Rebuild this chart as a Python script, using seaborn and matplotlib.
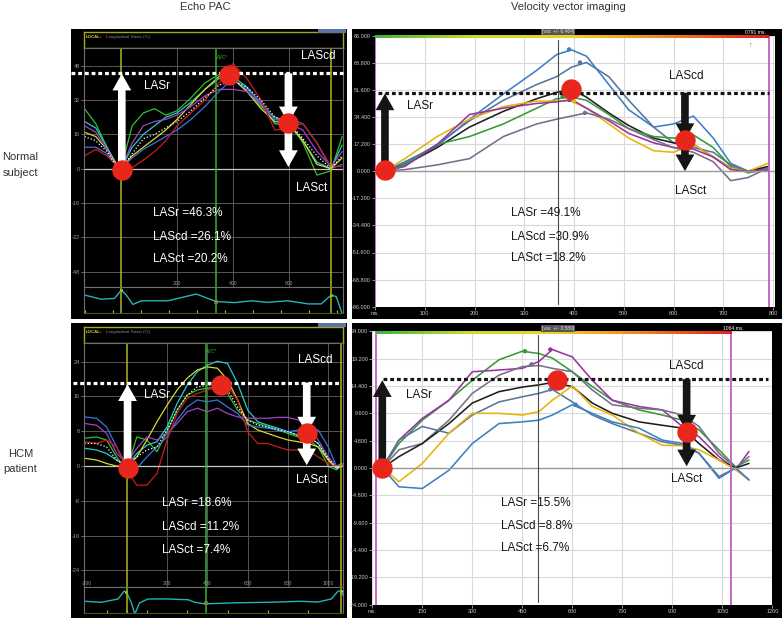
import numpy as np
import pandas as pd
import matplotlib
matplotlib.use("Agg")
import matplotlib.pyplot as plt
from matplotlib.patches import Rectangle
from matplotlib.colors import LinearSegmentedColormap
import seaborn as sns

# --------------------------
# Data (strain in %, time in ms)
# --------------------------

# Echo PAC - normal subject
tl_ms = [-130, -90, -50, -20, 0, 40, 80, 120, 160, 200, 250, 300, 350, 400, 450, 500, 550, 600, 650, 700, 750, 790]
tl_green = [28, 21, 10, 2.5, 0, 20, 26, 28, 25, 27, 33, 40, 44, 42, 36, 29, 24, 22, 12, -3, -1, 15]
tl_cyan = [22, 19, 10, 3, 0, 10, 16, 20, 24, 26, 31, 37, 42, 43, 38, 30, 21, 20, 13, 3, 0, 11]
tl_yellow = [17, 15, 9, 3, 0, 6, 10, 14, 18, 23, 30, 37, 43, 42, 36, 28, 22, 21, 13, 2, 0, 5]
tl_magenta = [20, 17, 9, 2, 0, 12, 20, 22, 23, 25, 29, 34, 37, 37, 36, 30, 23, 21, 18, 8, 1, 8]
tl_blue = [10, 10, 7, 2, 0, 5, 9, 12, 15, 18, 23, 29, 36, 42, 37, 31, 23, 23, 21, 12, 0, 2]
tl_red = [6, 9, 6, 2, 0, 0.5, 4, 8, 13, 20, 26, 32, 40, 49, 42, 32, 18, 19, 21, 12, 1, 1]
tl_white = [15, 13, 8, 2, 0, 7, 14, 16, 19, 22, 27, 33, 39, 41, 38, 32, 24, 22, 14, 6, 0, 6]
tl_ecg_ms = [-130, -70, -23, 1, 19, 43, 73, 168, 269, 340, 406, 466, 525, 596, 668, 715, 751, 769, 789]
tl_ecg = [0.69, 0.53, 0.56, 0.88, 0.69, 0.33, 0.47, 0.47, 0.73, 0.44, 0.40, 0.47, 0.41, 0.47, 0.35, 0.35, 0.69, 0.63, 0.0]
tl_stats = ["LASr =46.3%", "LAScd =26.1%", "LASct =20.2%"]

# Echo PAC - HCM patient
bl_ms = [-210, -150, -100, -50, 0, 50, 100, 150, 200, 250, 300, 350, 400, 450, 500, 550, 600, 650, 700,
         750, 800, 850, 900, 950, 1000, 1040, 1070]
bl_blue = [11.3, 11, 9, 4.4, 0, -0.5, 2.1, 4.4, 6.7, 10.6, 13.6, 15.2, 14.8, 15.2, 13.6, 12.1, 9.4, 9, 8.7,
           8.3, 7.9, 8.3, 8.7, 8.3, 4.4, 0, 0.6]
bl_magenta = [9.8, 9.4, 7.5, 2.9, 0.6, 4.1, 6.7, 6, 7.5, 9.8, 12.5, 13.3, 12.5, 13.3, 12.1, 11.3, 11, 11, 11,
              11.2, 11.2, 10.6, 9.4, 6, 2.1, 0, 0.6]
bl_cyan = [4.1, 3.7, 2.9, 1.4, 0, 2.9, 4.8, 5.6, 9, 14.4, 18.6, 21.7, 23.2, 24.1, 23.6, 19, 12.9, 10.2, 9.4,
           8.7, 7.9, 7.1, 6.7, 5.2, 1.4, -0.5, 0.2]
bl_yellow = [1.8, 1.4, 0.6, 0, 0, 2.1, 6, 10.2, 14, 17.5, 20.2, 22.1, 22.8, 22.5, 19.8, 15.2, 9.8, 8.3, 7.5,
             6.7, 6, 5.6, 5.2, 4.4, 1.4, -0.5, 0.2]
bl_green = [6.4, 6.7, 6, 2.1, -0.9, 6.7, 6, 3.3, 7.9, 12.9, 16.3, 17.5, 17.9, 18.2, 16.7, 12.9, 10.6, 9.8, 9,
            8.3, 7.5, 6.7, 6, 4.4, 0, -0.9, 0.2]
bl_red = [5.6, 5.2, 6, 4.4, -0.9, -4.4, -4.4, -1.7, 6, 12.1, 15.6, 16.7, 17.5, 18.1, 18.4, 15.2, 7.9, 5.2, 5.2,
          4.4, 3.7, 3.7, 3.7, 2.1, 0.6, 0, 0.2]
bl_white = [5.2, 5.2, 4.4, 1.4, 0, 2.1, 3.7, 4.4, 8.3, 12.9, 16.3, 18.2, 18.6, 18.6, 17.5, 13.6, 10.6, 9.4, 9,
            8.3, 7.9, 7.1, 6.7, 5.2, 1.8, -0.5, 0.2]
bl_ecg_ms = [-208, -126, -43, -13, -2, 23, 40, 64, 106, 205, 304, 337, 387, 536, 701, 866, 949, 1015, 1049, 1062, 1081]
bl_ecg = [0.44, 0.40, 0.53, 0.84, 0.81, 0.38, -0.06, 0.38, 0.53, 0.53, 0.5, 0.40, 0.34, 0.38, 0.40, 0.44, 0.41,
          0.53, 0.84, 0.84, 0.56]
bl_stats = ["LASr =18.6%", "LAScd =11.2%", "LASct =7.4%"]

# Velocity vector imaging - normal subject
tr_ms = [20, 60, 125, 190, 258, 325, 365, 395, 425, 470, 510, 560, 600, 640, 680, 715, 750, 790]
tr_blue = [0, 6, 16, 33, 49, 64, 74, 77, 73, 55, 39, 28, 30, 35, 21, 5, 0, 2]
tr_slate = [0, 5, 17, 32, 45, 55, 60, 66, 69, 60, 45, 28, 18, 15, 12, 4, 0, 1]
tr_black = [0, 4, 15, 28, 38, 46, 50, 52, 47, 37, 29, 21, 18, 17, 9, 2, 0, 3]
tr_green = [0, 4, 17, 22, 30, 40, 46, 47, 45, 36, 27, 22, 21, 23, 15, 3, -1, 1]
tr_yellow = [0, 8, 22, 33, 41, 44.5, 44.5, 44.5, 40, 30, 21, 13, 12, 17, 9, 2, 0, 5]
tr_magenta = [0, 3, 17, 36, 40, 43, 44, 45.5, 40, 32, 24, 18, 15, 14, 9, 1, 0, 1]
tr_grey = [0, 1, 4, 8, 22, 30, 33, 35, 37, 33, 27, 20, 15, 12, 6, -6, -4, 2]
tr_peak_seg = ["blue", "slate", "green", "yellow", "magenta", "grey"]
tr_peak_ms = [390, 412, 377, 400, 391, 422]
tr_peak_val = [77.3, 69, 47.3, 44.4, 45.2, 37]
tr_yticks = [86.0, 68.8, 51.6, 34.4, 17.2, 0.0, -17.2, -34.4, -51.6, -68.8, -86.0]
tr_xticks = [0, 100, 200, 300, 400, 500, 600, 700, 800]
tr_stats = ["LASr =49.1%", "LAScd =30.9%", "LASct =18.2%"]

# Velocity vector imaging - HCM patient
br_ms = [30, 80, 150, 230, 300, 380, 450, 500, 540, 600, 660, 720, 800, 870, 930, 980, 1040, 1090, 1130]
br_green = [0, 4.3, 8.4, 11.9, 15.4, 19, 20.5, 20.1, 19.3, 16.9, 14.3, 11.9, 10.2, 9.3, 8.4, 6.7, 3.2, 0.2, 1.4]
br_magenta = [0, 4.9, 8.7, 11.9, 16.9, 17.2, 17.5, 18.7, 20.8, 19.5, 15.4, 11.9, 10.8, 10.2, 7.3, 5.5, 2, -0.3, 2.9]
br_grey = [0, 3.2, 4.3, 8.4, 13.1, 16.3, 17.8, 18, 17.5, 16.9, 13.7, 11.1, 10.5, 10.2, 9.3, 7.3, 2.6, 0, 2]
br_black = [0, 2, 4.3, 7.8, 11.4, 13.4, 14.2, 14.6, 15, 14.3, 11.4, 9.6, 8.1, 7.5, 7, 4.3, 1.4, 0, 0.8]
br_slate = [0, 4.9, 7.3, 6.1, 9.3, 11.6, 12.5, 13.1, 13.8, 11.6, 9.3, 7.8, 6.1, 4.6, 4, 2.6, -1.5, 0, -2.1]
br_yellow = [0, -2.4, 0.8, 6.1, 9.6, 9.6, 9.3, 9.9, 11.9, 14.4, 10.8, 9.3, 6.1, 4, 3.9, 3.2, 1.4, -0.3, -2.1]
br_blue = [0, -3.3, -3.6, -0.4, 4.3, 7.8, 8.1, 8.4, 9.3, 11.1, 9.6, 8.1, 7, 4.9, 4.3, 2.6, -1.8, 0, -2.1]
br_peak_seg = ["green", "magenta", "grey", "slate", "blue"]
br_peak_ms = [458, 534, 478, 534, 610]
br_peak_val = [20.5, 20.8, 18.2, 13.8, 11.1]
br_yticks = [24.0, 19.2, 14.4, 9.6, 4.8, 0.0, -4.8, -9.6, -14.4, -19.2, -24.0]
br_xticks = [0, 150, 300, 450, 600, 750, 900, 1050, 1200]
br_stats = ["LASr =15.5%", "LAScd =8.8%", "LASct =6.7%"]

echo_palette = {"green": "#2fc12f", "cyan": "#27cccc", "yellow": "#d9d92a", "magenta": "#a640c4",
                "blue": "#3a74e0", "red": "#c81c1c"}
vvi_palette = {"blue": "#3d7fc6", "slate": "#52779e", "black": "#1e1e1e", "green": "#379a37",
               "yellow": "#e8b30a", "magenta": "#9a34a2", "grey": "#776e88"}

# --------------------------
# Figure setup
# --------------------------
W, H = 783, 620
sns.set_theme(style="white")
plt.rcParams["font.family"] = ["Liberation Sans", "DejaVu Sans"]
fig = plt.figure(figsize=(W / 100, H / 100), dpi=100)
DOT = "#e8261c"


def box(x0, y0, x1, y1):
    return [x0 / W, 1 - y1 / H, (x1 - x0) / W, (y1 - y0) / H]


def frame(x0, y0, x1, y1, color="black", z=-1):
    fig.patches.append(Rectangle((x0 / W, 1 - y1 / H), (x1 - x0) / W, (y1 - y0) / H,
                                 transform=fig.transFigure, facecolor=color, edgecolor="none", zorder=z))


def ftext(x, y, s, **kw):
    fig.text(x / W, 1 - y / H, s, **kw)


def arrow(ax, x, y0, y1, color):
    ax.annotate("", xy=(x, y1), xytext=(x, y0), zorder=4,
                arrowprops=dict(arrowstyle="simple,head_length=1.2,head_width=1.35,tail_width=0.55",
                                mutation_scale=10, color=color, lw=0, shrinkA=0, shrinkB=0))


def long_df(ms, curves):
    df = pd.DataFrame(curves, index=ms).rename_axis("ms").reset_index()
    return df.melt(id_vars="ms", var_name="segment", value_name="strain")


def annotate_las(ax, color, p):
    ax.plot(p["dot_span"], [p["level"], p["level"]], color=color, lw=2.3, ls=(0, (1.2, 0.9)),
            clip_on=False, zorder=3, solid_capstyle="butt", dash_capstyle="butt")
    arrow(ax, p["dots_ms"][0], p["dots_val"][0], p["lasr_tip"], color)
    arrow(ax, p["dots_ms"][2], p["level"], p["dots_val"][2], color)
    arrow(ax, p["dots_ms"][2], p["dots_val"][2], p["lasct_tip"], color)
    sns.scatterplot(x=p["dots_ms"], y=p["dots_val"], s=215, color=DOT, linewidth=0, zorder=5, ax=ax)
    for s, (xv, yv) in zip(["LASr", "LAScd", "LASct"], p["labels"]):
        ax.text(xv, yv, s, color=color, fontsize=8.5, ha="center", va="center", zorder=6)
    for i, s in enumerate(p["stats"]):
        ax.text(p["stats_x"], p["stats_y"][i], s, color=color, fontsize=8.5, ha="left", va="center", zorder=6)


# --------------------------
# Echo PAC panels (black screens)
# --------------------------
def echo_panel(p):
    x0, y0, x1, y1 = p["frame"]
    frame(x0, y0, x1, y1)
    hx0, hy0, hx1, hy1 = p["head"]
    ax_h = fig.add_axes(box(hx0, hy0, hx1, hy1))
    ax_h.set_facecolor("black")
    ax_h.set_xticks([])
    ax_h.set_yticks([])
    for s in ax_h.spines.values():
        s.set_color("#a8a81e")
        s.set_linewidth(1)
    ax_h.text(0.008, 0.66, "LOCAL:", color="#cccc30", fontsize=3.2, fontweight="bold",
              transform=ax_h.transAxes, va="center")
    ax_h.text(0.085, 0.66, "Longitudinal Strain (%)", color="#8c8c8c", fontsize=3.2,
              transform=ax_h.transAxes, va="center")
    frame(x1 - 29, y0, x1 - 1, y0 + 4, color="#5b73a6", z=3)

    ax = fig.add_axes(box(hx0, hy1, hx1, p["ecg_top"]))
    ax.set_facecolor("black")
    sns.lineplot(data=long_df(p["ms"], p["curves"]), x="ms", y="strain", hue="segment",
                 palette=echo_palette, lw=0.9, legend=False, errorbar=None, ax=ax)
    sns.lineplot(x=p["ms"], y=p["white"], color="white", lw=0.9, linestyle=(0, (1, 1.6)),
                 errorbar=None, ax=ax)
    ax.set_xlim(*p["xlim"])
    ax.set_ylim(*p["ylim"])
    ax.set_xticks(p["xgrid"])
    ax.set_yticks(p["yticks"])
    ax.set_yticklabels([str(v) for v in p["yticks"]])
    ax.tick_params(axis="x", length=0, labelbottom=False)
    ax.tick_params(axis="y", left=True, length=2, width=0.6, color="#808080", labelsize=4,
                   labelcolor="#9a9a9a", pad=1)
    ax.grid(True, color="#565656", lw=0.7)
    ax.axhline(0, color="#c8c8c8", lw=0.9)
    ax.set_xlabel("")
    ax.set_ylabel("")
    for s in ax.spines.values():
        s.set_color("#6e6e6e")
        s.set_linewidth(0.8)
    for xv in p["yellow"]:
        ax.axvline(xv, color="#b3b31c", lw=1.1)
    ax.axvline(p["green"], color="#2fb52f", lw=1.1)
    ax.text(p["green"] + 3, p["avc_y"], "AVC*", color="#35c035", fontsize=3.3, va="center")
    annotate_las(ax, "white", p)

    ax_e = fig.add_axes(box(hx0, p["ecg_top"], hx1, p["ecg_bottom"]))
    ax_e.set_facecolor("black")
    sns.lineplot(x=p["ecg_ms"], y=p["ecg_val"], color="#24b4b4", lw=1, errorbar=None, ax=ax_e)
    sns.scatterplot(x=p["yellow_marks"], y=p["yellow_marks_val"], color="#e0e030", s=5, linewidth=0, ax=ax_e)
    sns.scatterplot(x=[p["green"]], y=[p["red_mark_val"]], color="#e02020", s=5, marker="s", linewidth=0, ax=ax_e)
    ax_e.set_xlim(*p["xlim"])
    ax_e.set_ylim(*p["ecg_ylim"])
    for xv in p["yellow"]:
        ax_e.axvline(xv, color="#b3b31c", lw=1.1)
    ax_e.axvline(p["green"], color="#2fb52f", lw=1.1)
    ax_e.set_xticks(p["ecg_labels"])
    ax_e.set_xticklabels([str(v) for v in p["ecg_labels"]])
    ax_e.set_xticks(p["ecg_minor"], minor=True)
    ax_e.tick_params(axis="x", which="major", bottom=False, top=False, labelbottom=False, labeltop=True,
                     labelsize=3.6, labelcolor="#9a9a9a", pad=-5)
    ax_e.tick_params(axis="x", which="minor", bottom=True, top=False, direction="in", length=2.5,
                     width=0.8, color="#c0c020")
    ax_e.set_yticks([])
    ax_e.set_xlabel("")
    ax_e.set_ylabel("")
    for s in ax_e.spines.values():
        s.set_color("#6e6e6e")
        s.set_linewidth(0.8)
    ax_e.spines["bottom"].set_color("#50501a")


# --------------------------
# Velocity vector imaging panels (white screens)
# --------------------------
def vvi_panel(p):
    frame(*p["frame"])
    ax = fig.add_axes(box(*p["axes"]))
    ax.set_facecolor("white")
    sns.lineplot(data=long_df(p["ms"], p["curves"]), x="ms", y="strain", hue="segment",
                 palette=vvi_palette, lw=1.15, legend=False, errorbar=None, ax=ax)
    pk = pd.DataFrame({"segment": p["peak_seg"], "ms": p["peak_ms"], "strain": p["peak_val"]})
    sns.scatterplot(data=pk, x="ms", y="strain", hue="segment", palette=vvi_palette, s=10,
                    linewidth=0, legend=False, zorder=3, ax=ax)
    ax.set_xlim(*p["xlim"])
    ax.set_ylim(*p["ylim"])
    ax.set_xticks(p["xticks"])
    ax.set_xticklabels(["ms."] + [str(v) for v in p["xticks"][1:]])
    ax.set_yticks(p["yticks"])
    ax.set_yticklabels([f"{v:.3f}" for v in p["yticks"]])
    ax.tick_params(labelsize=4, labelcolor="#c8c8c8", length=2, width=0.6, color="#aaaaaa", pad=1,
                   left=True, bottom=True)
    ax.grid(True, color="#d9d9d9", lw=0.8)
    ax.set_xlabel("")
    ax.set_ylabel("")
    for s in ax.spines.values():
        s.set_visible(False)
    ax.axhline(0, color="#9a9a9a", lw=1)
    ax.axvline(p["cursor"], ymin=0.01, ymax=0.985, color="#4a4a4a", lw=0.8)
    for xv in p["magenta"]:
        ax.axvline(xv, color="#c45ac4", lw=1.3)
    annotate_las(ax, "#151515", p)

    ax_g = fig.add_axes(box(*p["gradient"]))
    cmap = LinearSegmentedColormap.from_list("bar", ["#3cb43c", "#c8dc28", "#f0d020", "#f08020", "#e02020"])
    ax_g.imshow(np.linspace(0, 1, 256)[None, :], aspect="auto", cmap=cmap)
    ax_g.set_axis_off()
    hx, hy = p["var_pos"]
    ftext(hx, hy, p["var_text"], color="#dddddd", fontsize=3.6, ha="center", va="center",
          bbox=dict(facecolor="#555555", edgecolor="none", pad=0.6))
    tx, ty = p["time_pos"]
    ftext(tx, ty, p["time_text"], color="white", fontsize=3.6, ha="center", va="center")


echo_panel(dict(
    frame=(71, 29, 347, 319), head=(84, 32, 343, 48), ecg_top=287, ecg_bottom=313,
    ms=tl_ms, curves={"green": tl_green, "cyan": tl_cyan, "yellow": tl_yellow, "magenta": tl_magenta,
                      "blue": tl_blue, "red": tl_red}, white=tl_white,
    xlim=(-132, 793), ylim=(-55.2, 56.3), yticks=[48, 32, 16, 0, -16, -32, -48], xgrid=[200, 400, 600],
    yellow=[0, 750], green=340, avc_y=52,
    level=44.5, dot_span=[-179, 793], lasr_tip=44.3, lasct_tip=0.8,
    dots_ms=[3, 385, 598], dots_val=[-0.5, 43.7, 21.2],
    labels=[(129, 38.5), (704, 52.6), (682, -9)], stats=tl_stats, stats_x=114, stats_y=[-20.7, -31.9, -42.1],
    ecg_ms=tl_ecg_ms, ecg_val=tl_ecg, ecg_ylim=(0, 1), ecg_labels=[200, 400, 600],
    ecg_minor=[-130, -30, 70, 170, 270, 370, 470, 570, 670, 770],
    yellow_marks=[1, 751], yellow_marks_val=[0.88, 0.69], red_mark_val=0.44,
))

echo_panel(dict(
    frame=(71, 323, 347, 618), head=(84, 327, 343, 343), ecg_top=587, ecg_bottom=613,
    ms=bl_ms, curves={"green": bl_green, "cyan": bl_cyan, "yellow": bl_yellow, "magenta": bl_magenta,
                      "blue": bl_blue, "red": bl_red}, white=bl_white,
    xlim=(-212, 1073), ylim=(-27.8, 28.3), yticks=[24, 16, 8, 0, -8, -16, -24],
    xgrid=[200, 400, 600, 800, 1000], yellow=[0, 1064], green=392, avc_y=26.3,
    level=19.2, dot_span=[-265, 1059], lasr_tip=18.8, lasct_tip=0.2,
    dots_ms=[4, 468, 893], dots_val=[-0.5, 18.6, 7.5],
    labels=[(152, 16.4), (934, 24.5), (918, -3.2)], stats=bl_stats, stats_x=174, stats_y=[-8.6, -13.9, -19.2],
    ecg_ms=bl_ecg_ms, ecg_val=bl_ecg, ecg_ylim=(-0.02, 1), ecg_labels=[-200, 200, 400, 600, 800, 1000],
    ecg_minor=[-200, -100, 0, 100, 200, 300, 400, 500, 600, 700, 800, 900, 1000],
    yellow_marks=[-2, 1062], yellow_marks_val=[0.81, 0.84], red_mark_val=0.36,
))

vvi_panel(dict(
    frame=(352, 29, 782, 319), axes=(375, 35.7, 775, 306.7), gradient=(375, 34.5, 769, 38),
    ms=tr_ms, curves={"blue": tr_blue, "slate": tr_slate, "black": tr_black, "green": tr_green,
                      "yellow": tr_yellow, "magenta": tr_magenta, "grey": tr_grey},
    peak_seg=tr_peak_seg, peak_ms=tr_peak_ms, peak_val=tr_peak_val,
    xlim=(0, 804), ylim=(-86, 86), xticks=tr_xticks, yticks=tr_yticks, cursor=368, magenta=[0, 791],
    level=49.8, dot_span=[7, 792], lasr_tip=49.3, lasct_tip=0,
    dots_ms=[20, 394, 623], dots_val=[0.8, 52, 19.8],
    labels=[(90, 41.4), (626, 60.4), (634, -12.6)], stats=tr_stats, stats_x=273, stats_y=[-26.8, -41.6, -55.3],
    var_pos=(558, 32), var_text="[var. +/- 6.464]", time_pos=(755, 32), time_text="0791 ms.",
))

vvi_panel(dict(
    frame=(352, 323, 782, 618), axes=(372.3, 331.3, 772.3, 604.7), gradient=(376, 330.5, 732, 334.5),
    ms=br_ms, curves={"green": br_green, "magenta": br_magenta, "grey": br_grey, "black": br_black,
                      "slate": br_slate, "yellow": br_yellow, "blue": br_blue},
    peak_seg=br_peak_seg, peak_ms=br_peak_ms, peak_val=br_peak_val,
    xlim=(0, 1200), ylim=(-24, 24), xticks=br_xticks, yticks=br_yticks, cursor=496, magenta=[11, 1075],
    level=15.6, dot_span=[33, 1188], lasr_tip=15.4, lasct_tip=0.3,
    dots_ms=[30, 555, 943], dots_val=[0, 15.4, 6.4],
    labels=[(141, 12.8), (943, 17.9), (943, -2.0)], stats=br_stats, stats_x=385, stats_y=[-6.1, -10.2, -14.1],
    var_pos=(558, 328.5), var_text="[var. +/- 3.589]", time_pos=(733, 328.5), time_text="1064 ms.",
))

# small cursor mark in the top right screen
ftext(750, 45, "↑", color="#555555", fontsize=5, ha="center", va="center")

# column and row titles
ftext(205, 7, "Echo PAC", color="#333333", fontsize=8, ha="center", va="center")
ftext(568, 7, "Velocity vector imaging", color="#333333", fontsize=8, ha="center", va="center")
ftext(20.5, 165.5, "Normal\nsubject", color="#333333", fontsize=8, ha="center", va="center", linespacing=1.75)
ftext(20.5, 461.5, "HCM\npatient", color="#333333", fontsize=8, ha="center", va="center", linespacing=1.6)

fig.savefig("out.png", dpi=100)
